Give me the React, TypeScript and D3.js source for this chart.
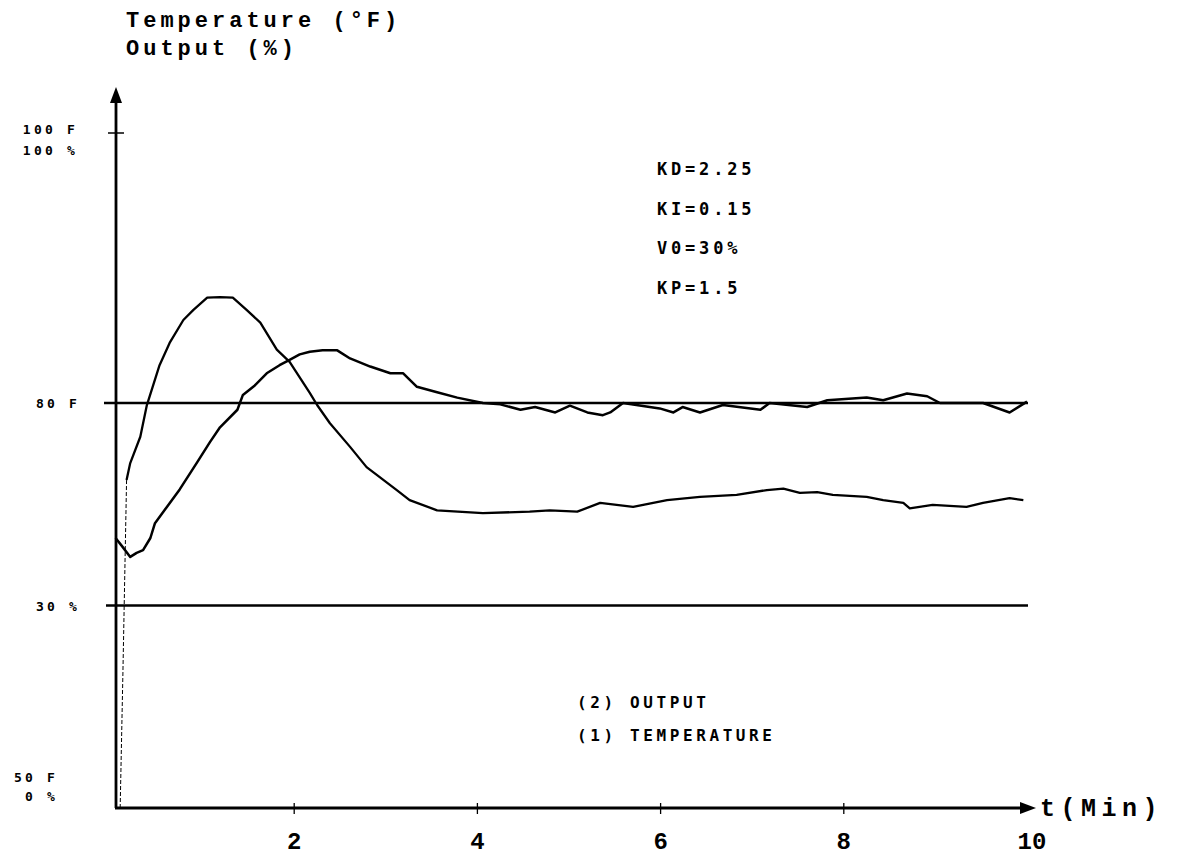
import * as d3 from "d3";

// temperature response (1), minutes / deg F
const tempT = [0.05, 0.12, 0.21, 0.28, 0.35, 0.43, 0.48, 0.61, 0.75, 0.94, 1.08, 1.19, 1.38, 1.44, 1.57, 1.7, 1.84, 1.95, 2.06, 2.17, 2.31, 2.47, 2.61, 2.83, 3.05, 3.19, 3.34, 3.56, 3.78, 4.06, 4.25, 4.47, 4.63, 4.85, 5.01, 5.2, 5.37, 5.45, 5.59, 5.99, 6.14, 6.24, 6.43, 6.68, 7.09, 7.19, 7.6, 7.82, 8.25, 8.43, 8.69, 8.91, 9.05, 9.52, 9.81, 10.0];
const tempF = [70.0, 69.4, 68.6, 68.9, 69.1, 70.0, 71.1, 72.3, 73.6, 75.6, 77.1, 78.2, 79.5, 80.6, 81.3, 82.2, 82.8, 83.2, 83.6, 83.8, 83.9, 83.9, 83.3, 82.7, 82.2, 82.2, 81.2, 80.8, 80.4, 80.0, 79.9, 79.5, 79.7, 79.3, 79.8, 79.3, 79.1, 79.3, 80.0, 79.6, 79.3, 79.7, 79.3, 79.85, 79.5, 80.0, 79.7, 80.2, 80.4, 80.2, 80.7, 80.5, 80.0, 80.0, 79.3, 80.1];

// controller output (2), minutes / %
const outT = [0.1, 0.13, 0.17, 0.21, 0.32, 0.39, 0.53, 0.64, 0.79, 0.9, 1.05, 1.19, 1.33, 1.48, 1.63, 1.81, 1.95, 2.17, 2.25, 2.39, 2.61, 2.79, 3.12, 3.26, 3.56, 4.06, 4.57, 4.79, 5.09, 5.34, 5.7, 6.07, 6.43, 6.83, 7.16, 7.34, 7.52, 7.71, 7.88, 8.25, 8.43, 8.65, 8.72, 8.97, 9.34, 9.52, 9.81, 9.96];
const outPct = [0, 20, 48.6, 51.1, 55.0, 59.6, 65.6, 68.9, 72.3, 73.8, 75.6, 75.7, 75.6, 73.8, 71.9, 67.9, 66.1, 61.5, 59.7, 57.0, 53.5, 50.5, 47.1, 45.6, 44.1, 43.7, 43.9, 44.1, 43.9, 45.2, 44.6, 45.6, 46.1, 46.4, 47.1, 47.3, 46.7, 46.8, 46.4, 46.1, 45.6, 45.2, 44.4, 44.9, 44.6, 45.2, 45.9, 45.6];

const xTicks = [2, 4, 6, 8, 10];
const params = ["KD=2.25", "KI=0.15", "V0=30%", "KP=1.5"];
const legendNum = ["(2)", "(1)"];
const legendName = ["OUTPUT", "TEMPERATURE"];

const MONO = "'Liberation Mono', 'DejaVu Sans Mono', monospace";
const DOT = "'DejaVu Sans Mono', monospace";

export default function App() {
  const width = 1177;
  const height = 858;

  const x = d3.scaleLinear().domain([0, 10]).range([111, 1027]);
  const yT = d3.scaleLinear().domain([50, 100]).range([808, 133]);
  const yP = d3.scaleLinear().domain([0, 100]).range([808, 133]);
  const axisX = 116;
  const axisY = yT(50);

  const tempPts: [number, number][] = tempT.map((t, i) => [x(t), yT(tempF[i])]);
  const outPts: [number, number][] = outT.map((t, i) => [x(t), yP(outPct[i])]);

  const line = d3.line<[number, number]>().x((d) => d[0]).y((d) => d[1]);

  return (
    <svg
      width={width}
      height={height}
      style={{ position: "absolute", left: 0, top: 0, background: "#fff" }}
    >
      {/* title */}
      <g fontFamily={MONO} fontWeight="bold" fontSize={22} letterSpacing={4} fill="#000">
        <text x={126} y={27}>Temperature (°F)</text>
        <text x={126} y={55}>Output (%)</text>
      </g>

      {/* y axis + arrow */}
      <line x1={axisX} y1={axisY} x2={axisX} y2={100} stroke="#000" strokeWidth={2.8} />
      <path d={`M${axisX},87 L${axisX - 6},103 L${axisX + 6},103 Z`} fill="#000" />
      <line x1={axisX - 8} x2={axisX + 8} y1={yT(100)} y2={yT(100)} stroke="#000" strokeWidth={1.5} />

      {/* x axis + arrow */}
      <line x1={axisX - 1} y1={axisY} x2={1024} y2={axisY} stroke="#000" strokeWidth={2.8} />
      <path d={`M1036,${axisY} L1020,${axisY - 6} L1020,${axisY + 6} Z`} fill="#000" />
      {xTicks.slice(0, 4).map((t) => (
        <line key={`tick${t}`} x1={x(t)} x2={x(t)} y1={axisY - 5} y2={axisY + 6} stroke="#000" strokeWidth={1.3} />
      ))}
      <g fontFamily={MONO} fontWeight="bold" fontSize={24} fill="#000" textAnchor="middle">
        {xTicks.map((t) => (
          <text key={`lab${t}`} x={x(t) + (t === 10 ? 5 : 0)} y={849}>
            {t}
          </text>
        ))}
      </g>
      <text x={1040} y={816} fontFamily={MONO} fontWeight="bold" fontSize={25} letterSpacing={5.5}>t(Min)</text>

      {/* y labels */}
      <g fontFamily={DOT} fontWeight="bold" fontSize={13} letterSpacing={3.2} fill="#000" textAnchor="end">
        <text x={78} y={yT(100) + 1}>100 F</text>
        <text x={78} y={yT(100) + 22}>100 %</text>
        <text x={80} y={yT(80) + 5}>80 F</text>
        <text x={80} y={yP(30) + 5}>30 %</text>
        <text x={58} y={782}>50 F</text>
        <text x={58} y={801}>0 %</text>
      </g>

      {/* reference lines: setpoint 80 F and V0 = 30 % */}
      <line x1={104} x2={1028} y1={yT(80)} y2={yT(80)} stroke="#000" strokeWidth={2.6} />
      <line x1={106} x2={1028} y1={yP(30)} y2={yP(30)} stroke="#000" strokeWidth={2.6} />

      {/* curves */}
      <path d={line(outPts.slice(0, 3)) || ""} fill="none" stroke="#000" strokeWidth={1} strokeDasharray="4 2" />
      <path d={line(outPts.slice(2)) || ""} fill="none" stroke="#000" strokeWidth={2.3} strokeLinejoin="round" />
      <path d={line(tempPts) || ""} fill="none" stroke="#000" strokeWidth={2.5} strokeLinejoin="round" />

      {/* controller parameters */}
      <g fontFamily={DOT} fontWeight="bold" fontSize={17} letterSpacing={3.8} fill="#000">
        {params.map((p, i) => (
          <text key={p} x={657} y={175 + i * 39.5}>{p}</text>
        ))}
      </g>

      {/* legend */}
      <g fontFamily={DOT} fontWeight="bold" fontSize={16} letterSpacing={3.6} fill="#000">
        {legendNum.map((n, i) => (
          <g key={n}>
            <text x={577} y={708 + i * 33}>{n}</text>
            <text x={630} y={708 + i * 33}>{legendName[i]}</text>
          </g>
        ))}
      </g>
    </svg>
  );
}
